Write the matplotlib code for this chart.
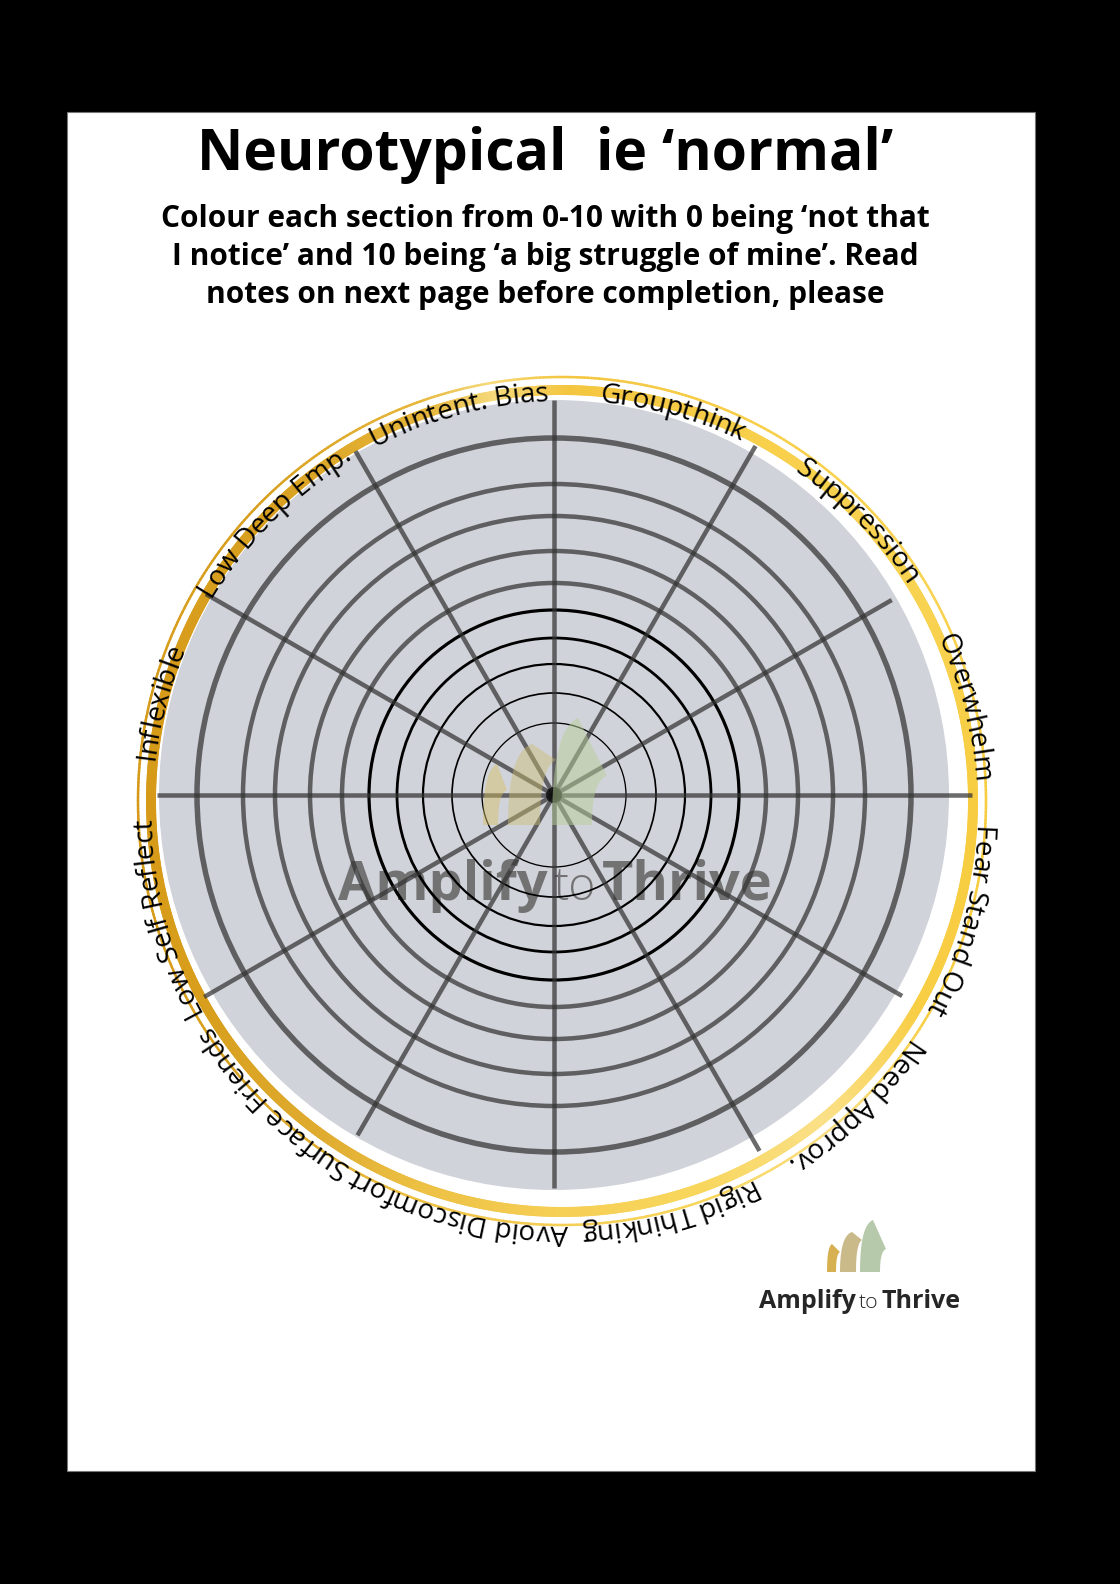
import numpy as np
import matplotlib
matplotlib.use('Agg')
import matplotlib.pyplot as plt
from matplotlib.patches import Circle, Rectangle, Polygon
from matplotlib.collections import LineCollection
from matplotlib.font_manager import FontProperties, findfont, get_font

W, H, DPI = 1120, 1584, 100

title = 'Neurotypical  ie \u2018normal\u2019'
subtitle_lines = [
    'Colour each section from 0-10 with 0 being \u2018not that',
    'I notice\u2019 and 10 being \u2018a big struggle of mine\u2019. Read',
    'notes on next page before completion, please',
]
# sections clockwise from 12 o'clock
categories = ['Groupthink', 'Suppression', 'Overwhelm', 'Fear Stand Out',
              'Need Approv.', 'Rigid Thinking', 'Avoid Discomfort',
              'Surface Friends', 'Low Self Reflect', 'Inflexible',
              'Low Deep Emp.', 'Unintent. Bias']
levels = list(range(1, 11))
brand = ['Amplify', 'to', 'Thrive']

# layout (pixels of the page image)
CX, CY = 554, 795           # wheel centre
DISC_R = 395
RING_CX, RING_CY = 562, 801  # gold ring is a little off centre
TEXT_CX, TEXT_CY, TEXT_R = 565, 813, 412
level_radius = [72, 102, 131, 157, 185, 212, 244, 279, 311, 357]
spoke_len = [395, 403, 390, 418, 402, 411, 393, 393, 404, 397, 402, 397]
PX = 72 / DPI  # px -> pt

# single rotated glyphs go through mathtext: its box is the advance box,
# so upside-down letters keep their spacing
plt.rcParams['mathtext.fontset'] = 'custom'
plt.rcParams['mathtext.rm'] = 'Open Sans'

fig = plt.figure(figsize=(W / DPI, H / DPI), dpi=DPI, facecolor='black')
ax = fig.add_axes([0, 0, 1, 1])
ax.set_xlim(0, W)
ax.set_ylim(H, 0)
ax.axis('off')
renderer = fig.canvas.get_renderer()

ax.add_patch(Rectangle((67, 112), 1035 - 67, 1471 - 112, fc='white', ec='#777777', lw=0.8, zorder=0))

# header
ax.text(545, 170, title, ha='center', va='baseline', family='Open Sans',
        fontweight='bold', fontsize=41)
for i, line in enumerate(subtitle_lines):
    ax.text(545, 227 + 38 * i, line, ha='center', va='baseline', family='Open Sans',
            fontweight='bold', fontsize=21.5)

# gold ring with a left->right gradient
anchor_deg = [-180, -150, -125, -110, -90, -70, -50, -30, 0, 30, 60, 90, 100, 110, 135, 180]
anchor_col = ['#d69a18', '#d89e1c', '#dfac30', '#ecc043', '#f6cf55', '#f8d65c', '#fae088',
              '#f8ce45', '#f7cc40', '#f8d352', '#f8d04c', '#f4c640', '#f6da7c', '#e6b63a',
              '#d9a020', '#d69a18']
anchor_rgb = np.array([matplotlib.colors.to_rgb(c) for c in anchor_col])


def ring(radius, lw):
    th = np.linspace(-np.pi, np.pi, 721)
    x = RING_CX + radius * np.cos(th)
    y = RING_CY - radius * np.sin(th)
    pts = np.column_stack([x, y])
    segs = np.stack([pts[:-1], pts[1:]], axis=1)
    mid = np.degrees((th[:-1] + th[1:]) / 2)
    cols = np.column_stack([np.interp(mid, anchor_deg, anchor_rgb[:, k]) for k in range(3)])
    ax.add_collection(LineCollection(segs, colors=cols, linewidths=lw * PX, capstyle='round', zorder=1))


ring(411, 10)
ring(424, 2.5)

# grey disc
ax.add_patch(Circle((CX, CY), DISC_R, fc='#d1d3da', ec='none', zorder=1))


# logo blades: band between two "╭" shaped curves, slanted top
def blade(bl, br, tl, tr, color, alpha, z):
    t = np.linspace(0, 1, 40)[:, None]
    bl, br, tl, tr = map(np.array, (bl, br, tl, tr))
    c1 = np.array([bl[0], tl[1] + 0.1 * (bl[1] - tl[1])])
    left = (1 - t) ** 2 * bl + 2 * (1 - t) * t * c1 + t ** 2 * tl
    c2 = np.array([br[0], tr[1] + 0.1 * (br[1] - tr[1])])
    right = (1 - t) ** 2 * br + 2 * (1 - t) * t * c2 + t ** 2 * tr
    ax.add_patch(Polygon(np.vstack([left, right[::-1]]), closed=True, fc=color, ec='none',
                         alpha=alpha, zorder=z))


def brand_text(xc, yb, size, color, alpha, z, gap):
    parts = [(brand[0], 'bold', size), (brand[1], 'light', size * 0.85), (brand[2], 'bold', size)]
    objs, widths = [], []
    for s, wt, fs in parts:
        t = ax.text(0, yb, s, ha='left', va='baseline', family='Open Sans', fontweight=wt,
                    fontsize=fs, color=color, alpha=alpha, zorder=z)
        objs.append(t)
        widths.append(t.get_window_extent(renderer).width)
    x = xc - (sum(widths) + 2 * gap) / 2
    for t, w in zip(objs, widths):
        t.set_x(x)
        x += w + gap


# watermark
blade((483, 825), (498, 825), (497, 764), (507, 790), '#d6c060', 0.45, 4)
blade((508, 825), (540, 825), (532, 744), (556, 760), '#cbbd70', 0.45, 4)
blade((552, 825), (592, 825), (578, 718), (607, 776), '#b8d098', 0.5, 4)
brand_text(555, 900, 39, '#5a5a5a', 0.8, 2, 6)

# rings
ring_lw = [1.3, 1.7, 2.2, 2.8, 3.2, 4.5, 4.5, 4.5, 4.5, 5.5]
ring_col = ['black'] * 5 + [(0.2, 0.2, 0.2, 0.72)] * 5
for lv, r, lw, c in zip(levels, level_radius, ring_lw, ring_col):
    ax.add_patch(Circle((CX, CY), r, fill=False, ec=c, lw=lw * PX, zorder=3))

# spokes
n = len(categories)
bounds = np.radians(90 - 30 * np.arange(n))
segs = [[(CX, CY), (CX + L * np.cos(a), CY - L * np.sin(a))] for a, L in zip(bounds, spoke_len)]
ax.add_collection(LineCollection(segs, colors=[(0.2, 0.2, 0.2, 0.72)], linewidths=4.5 * PX,
                                 capstyle='butt', zorder=3))
ax.add_patch(Circle((CX, CY), 8, fc='black', ec='none', alpha=0.7, zorder=3))

# curved labels, reading clockwise, tops outward
LABEL_SIZE = 20
label_fp = FontProperties(family='Open Sans', size=LABEL_SIZE)
ft = get_font(findfont(label_fp))
for i, lab in enumerate(categories):
    ft.set_size(LABEL_SIZE, DPI)
    adv = [ft.load_char(ord(ch)).linearHoriAdvance / 65536 for ch in lab]
    mid = 75 - 30 * i
    s = -sum(adv) / 2
    for ch, a in zip(lab, adv):
        th = mid - np.degrees((s + a / 2) / TEXT_R)
        x = TEXT_CX + TEXT_R * np.cos(np.radians(th))
        y = TEXT_CY - TEXT_R * np.sin(np.radians(th))
        if ch != ' ':
            ax.text(x, y, r'$\mathrm{%s}$' % ch, fontsize=LABEL_SIZE, rotation=th - 90,
                    rotation_mode='anchor', ha='center', va='baseline', color='black', zorder=5)
        s += a

# bottom-right logo
blade((827, 1272), (836, 1272), (832, 1244), (840, 1252), '#d4ac48', 0.95, 4)
blade((840, 1272), (856, 1272), (852, 1232), (862, 1240), '#c8b683', 0.95, 4)
blade((860, 1272), (880, 1272), (873, 1220), (886, 1249), '#b2c7a7', 0.95, 4)
brand_text(860, 1308, 18, '#262626', 1.0, 4, 3)

fig.savefig('out.png', dpi=DPI, facecolor='black')
